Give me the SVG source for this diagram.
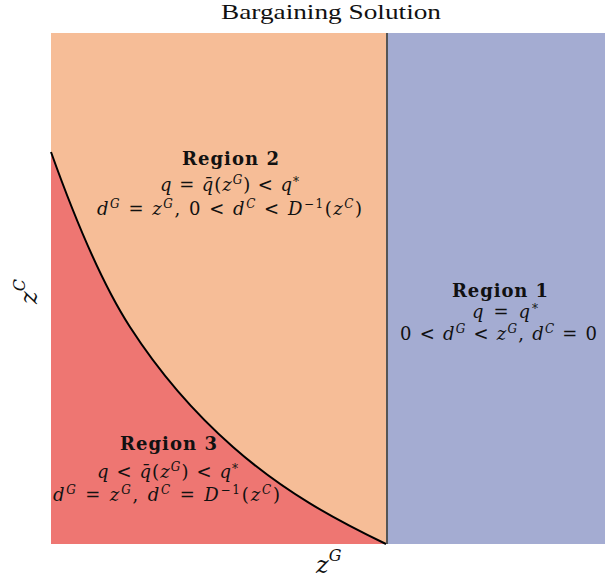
<svg xmlns="http://www.w3.org/2000/svg" width="605" height="583" viewBox="0 0 605 583">
<style>
.t{font-family:"DejaVu Serif","Liberation Serif",serif;font-size:18px;fill:#111}
.b{font-weight:bold}
.i{font-style:italic}
.s{font-size:12px}
.ax{font-family:"DejaVu Serif","Liberation Serif",serif;font-size:24px;fill:#111}
.axs{font-size:16px}
.ttl{font-family:"Liberation Serif","DejaVu Serif",serif;font-size:22px;fill:#111}
</style>
<rect width="605" height="583" fill="#ffffff"/>
<g id="regions">
<rect id="region2-bg" x="51" y="33" width="336" height="511" fill="#f6bd97"/>
<rect id="region1-bg" x="387" y="33" width="218" height="511" fill="#a4acd2"/>
<path id="region3-bg" d="M51,152 C77.3,225.6 103.7,286.2 130,327 C164.3,380.2 198.7,416.8 233,447 C284,491.9 335,519.5 386,544 L51,544 Z" fill="#ee7672"/>
</g>
<g id="connectors">
<line x1="387" y1="33" x2="387" y2="544" stroke="#555" stroke-width="2"/>
<path d="M51,152 C77.3,225.6 103.7,286.2 130,327 C164.3,380.2 198.7,416.8 233,447 C284,491.9 335,519.5 386,544" fill="none" stroke="#000" stroke-width="2"/>
</g>
<g id="title">
<text class="ttl" x="221" y="19" textLength="220" lengthAdjust="spacingAndGlyphs">Bargaining Solution</text>
</g>
<g id="region2">
<text class="t b" x="182" y="165" textLength="97">Region 2</text>
<text class="t" x="160" y="191" textLength="139"><tspan class="i">q</tspan> = <tspan class="i">q̄</tspan>(<tspan class="i">z</tspan><tspan class="s i" dy="-7">G</tspan><tspan dy="7">) &lt; </tspan><tspan class="i">q</tspan><tspan class="s" dy="-5">*</tspan></text>
<text class="t" x="97" y="215" textLength="265"><tspan class="i">d</tspan><tspan class="s i" dy="-7">G</tspan><tspan dy="7"> = </tspan><tspan class="i">z</tspan><tspan class="s i" dy="-7">G</tspan><tspan dy="7">, 0 &lt; </tspan><tspan class="i">d</tspan><tspan class="s i" dy="-7">C</tspan><tspan dy="7"> &lt; </tspan><tspan class="i">D</tspan><tspan class="s" dy="-7">−1</tspan><tspan dy="7">(</tspan><tspan class="i">z</tspan><tspan class="s i" dy="-7">C</tspan><tspan dy="7">)</tspan></text>
</g>
<g id="region1">
<text class="t b" x="452" y="297" textLength="96">Region 1</text>
<text class="t" x="472" y="318" textLength="66"><tspan class="i">q</tspan> = <tspan class="i">q</tspan><tspan class="s" dy="-5">*</tspan></text>
<text class="t" x="400" y="339.5" textLength="197">0 &lt; <tspan class="i">d</tspan><tspan class="s i" dy="-7">G</tspan><tspan dy="7"> &lt; </tspan><tspan class="i">z</tspan><tspan class="s i" dy="-7">G</tspan><tspan dy="7">, </tspan><tspan class="i">d</tspan><tspan class="s i" dy="-7">C</tspan><tspan dy="7"> = 0</tspan></text>
</g>
<g id="region3">
<text class="t b" x="120" y="450" textLength="97">Region 3</text>
<text class="t" x="97" y="478" textLength="141"><tspan class="i">q</tspan> &lt; <tspan class="i">q̄</tspan>(<tspan class="i">z</tspan><tspan class="s i" dy="-7">G</tspan><tspan dy="7">) &lt; </tspan><tspan class="i">q</tspan><tspan class="s" dy="-5">*</tspan></text>
<text class="t" x="53" y="501" textLength="227"><tspan class="i">d</tspan><tspan class="s i" dy="-7">G</tspan><tspan dy="7"> = </tspan><tspan class="i">z</tspan><tspan class="s i" dy="-7">G</tspan><tspan dy="7">, </tspan><tspan class="i">d</tspan><tspan class="s i" dy="-7">C</tspan><tspan dy="7"> = </tspan><tspan class="i">D</tspan><tspan class="s" dy="-7">−1</tspan><tspan dy="7">(</tspan><tspan class="i">z</tspan><tspan class="s i" dy="-7">C</tspan><tspan dy="7">)</tspan></text>
</g>
<g id="xlabel">
<text class="ax" x="316" y="573"><tspan class="i">z</tspan><tspan class="axs i" dy="-12">G</tspan></text>
</g>
<g id="ylabel">
<text class="ax" transform="translate(37,304) rotate(-90)" x="0" y="0"><tspan class="i">z</tspan><tspan class="axs i" dy="-12">C</tspan></text>
</g>
</svg>
